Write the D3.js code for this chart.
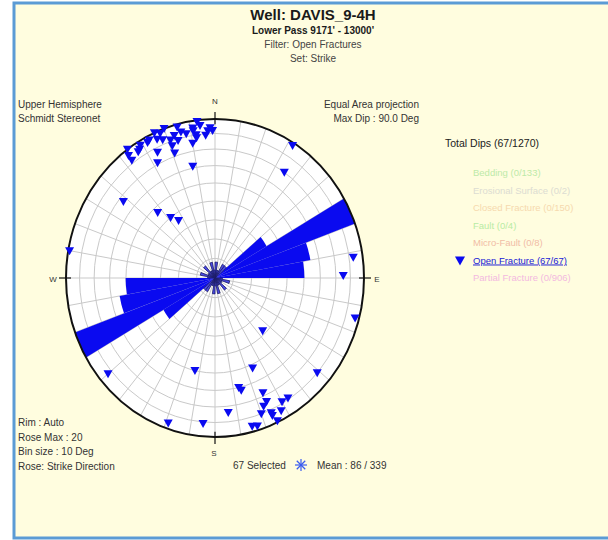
<!DOCTYPE html>
<html>
<head>
<meta charset="utf-8">
<style>
  body { margin: 0; background: #fff; }
  text { font-family: Arial, "Liberation Sans", sans-serif; }
</style>
</head>
<body></body>

<script src='https://d3js.org/d3.v7.min.js'></script>
<script>

    const width = 608;
    const height = 540;

    // header / side texts
    const titleLines = ["Well: DAVIS_9-4H", "Lower Pass 9171' - 13000'", "Filter: Open Fractures", "Set: Strike"];
    const topLeftText = ["Upper Hemisphere", "Schmidt Stereonet"];
    const topRightText = ["Equal Area projection", "Max Dip : 90.0 Deg"];
    const bottomLeftText = ["Rim : Auto", "Rose Max : 20", "Bin size : 10 Deg", "Rose: Strike Direction"];

    // legend
    const legendTitle = "Total Dips (67/1270)";
    const legendNames = ["Bedding (0/133)", "Erosional Surface (0/2)", "Closed Fracture (0/150)", "Fault (0/4)",
        "Micro-Fault (0/8)", "Open Fracture (67/67)", "Partial Fracture (0/906)"];
    const legendColors = ["#bdeaa8", "#dcdcd2", "#f6d9ae", "#b8eca4", "#f1bca6", "#1a1ad6", "#f3b9df"];

    // rose: strike counts per 10 deg bin, 0..180 (mirrored for 180..360)
    const roseBins = d3.range(0, 180, 10);
    const roseCounts = [2, 1, 1, 2, 2, 8, 20, 13, 12, 1, 2, 1, 1, 2, 1, 1, 2, 1];
    const roseMax = 20;

    // open fracture poles [azimuth, dip]
    const poles = [
        [353, 89], [351, 85], [357, 82], [359, 82], [352, 80], [350, 75], [352, 78], [343, 83],
        [338, 88], [336, 90], [338, 83], [341, 77], [341, 72], [334, 77], [332, 71], [332, 86],
        [328, 85], [327, 84], [324, 90], [323, 86], [323, 82], [348, 61], [308, 67], [317, 47],
        [322, 40], [326, 36], [280, 89], [32, 88], [35, 70], [82, 83], [89, 75], [105, 87],
        [230, 83], [193, 50], [199, 86], [185, 81], [174, 74], [167, 60], [136, 38], [131, 80],
        [156, 52], [166, 62], [156, 68], [156, 74], [150, 79], [147, 79], [156, 84], [155, 89],
        [165, 86], [163, 87], [346, 84], [340, 90], [354, 86], [348, 82], [333, 87], [358, 84],
        [341, 81], [344, 79], [351, 83], [356, 79], [156, 82], [336, 85], [329, 87], [160, 80],
        [158, 76], [345, 88], [152, 84]
    ];

    const cx = 215, cy = 278, R = 149, ry = 159;
    const k = ry / R;

    const svg = d3.select("body")
        .append("svg")
        .attr("width", width)
        .attr("height", height);

    svg.append("rect").attr("width", width).attr("height", height).attr("fill", "#fff");
    svg.append("rect")
        .attr("x", 14).attr("y", 3)
        .attr("width", 610).attr("height", 535)
        .attr("fill", "#fffddf")
        .attr("stroke", "#5b9bd5")
        .attr("stroke-width", 3);

    // titles
    const titleSizes = [15, 10, 10, 10];
    const titleY = [20, 34, 48, 62];
    svg.selectAll(".title")
        .data(titleLines)
        .enter()
        .append("text")
        .attr("x", 313)
        .attr("y", function (d, i) { return titleY[i]; })
        .attr("text-anchor", "middle")
        .attr("font-size", function (d, i) { return titleSizes[i]; })
        .attr("font-weight", function (d, i) { return i < 2 ? "bold" : "normal"; })
        .attr("fill", function (d, i) { return i < 2 ? "#1a1a1a" : "#444"; })
        .text(function (d) { return d; });

    svg.selectAll(".tl")
        .data(topLeftText)
        .enter()
        .append("text")
        .attr("x", 18)
        .attr("y", function (d, i) { return 108 + i * 14; })
        .attr("font-size", 10)
        .attr("fill", "#333")
        .text(function (d) { return d; });

    svg.selectAll(".tr")
        .data(topRightText)
        .enter()
        .append("text")
        .attr("x", 419)
        .attr("y", function (d, i) { return 108 + i * 14; })
        .attr("text-anchor", "end")
        .attr("font-size", 10)
        .attr("fill", "#333")
        .text(function (d) { return d; });

    svg.selectAll(".bl")
        .data(bottomLeftText)
        .enter()
        .append("text")
        .attr("x", 18)
        .attr("y", function (d, i) { return 426 + i * 14.5; })
        .attr("font-size", 10)
        .attr("fill", "#333")
        .text(function (d) { return d; });

    // stereonet
    const net = svg.append("g")
        .attr("transform", "translate(" + cx + "," + cy + ") scale(1," + k + ")");

    net.append("circle").attr("r", R).attr("fill", "#fff");

    // equal area radius for a dip (90 deg at rim)
    function dipRadius(dip) {
        return R * Math.SQRT2 * Math.sin(dip * Math.PI / 360);
    }

    const ringDips = d3.range(10, 90, 10);
    net.selectAll(".ring")
        .data(ringDips)
        .enter()
        .append("circle")
        .attr("r", function (d) { return dipRadius(d); })
        .attr("fill", "none")
        .attr("stroke", "#c9c9c9")
        .attr("stroke-width", 1)
        .attr("vector-effect", "non-scaling-stroke");

    const spokes = d3.range(0, 360, 10);
    net.selectAll(".spoke")
        .data(spokes)
        .enter()
        .append("line")
        .attr("x1", 0).attr("y1", 0)
        .attr("x2", function (d) { return R * Math.sin(d * Math.PI / 180); })
        .attr("y2", function (d) { return -R * Math.cos(d * Math.PI / 180); })
        .attr("stroke", "#c9c9c9")
        .attr("stroke-width", 1)
        .attr("vector-effect", "non-scaling-stroke");

    // rose
    const rScale = d3.scaleLinear().domain([0, roseMax]).range([0, R]);
    const roseData = [];
    roseBins.forEach(function (b, i) {
        roseData.push({ start: b, count: roseCounts[i] });
        roseData.push({ start: b + 180, count: roseCounts[i] });
    });
    const arc = d3.arc()
        .innerRadius(0)
        .outerRadius(function (d) { return rScale(d.count); })
        .startAngle(function (d) { return d.start * Math.PI / 180; })
        .endAngle(function (d) { return (d.start + 10) * Math.PI / 180; });

    net.selectAll(".petal")
        .data(roseData.filter(function (d) { return d.count > 2; }))
        .enter()
        .append("path")
        .attr("d", arc)
        .attr("fill", "#0a0af0");

    net.selectAll(".smallpetal")
        .data(roseData.filter(function (d) { return d.count <= 2; }))
        .enter()
        .append("path")
        .attr("d", arc)
        .attr("fill", "#4a4ae8")
        .attr("stroke", "#1c1c66")
        .attr("stroke-width", 0.8)
        .attr("vector-effect", "non-scaling-stroke");

    net.append("circle")
        .attr("r", R)
        .attr("fill", "none")
        .attr("stroke", "#111")
        .attr("stroke-width", 2)
        .attr("vector-effect", "non-scaling-stroke");

    // compass ticks and labels
    const compass = [
        { label: "N", az: 0 }, { label: "E", az: 90 }, { label: "S", az: 180 }, { label: "W", az: 270 }
    ];
    function project(az, r) {
        const a = az * Math.PI / 180;
        return [cx + r * Math.sin(a), cy - r * k * Math.cos(a)];
    }
    compass.forEach(function (c) {
        const p1 = project(c.az, R - 5);
        const p2 = project(c.az, R + (c.az % 180 === 0 ? 7 / k : 7));
        svg.append("line")
            .attr("x1", p1[0]).attr("y1", p1[1])
            .attr("x2", p2[0]).attr("y2", p2[1])
            .attr("stroke", "#111").attr("stroke-width", 1.2);
    });
    const labelPos = { N: [215, 104], S: [214, 456], E: [377, 282], W: [53, 282] };
    svg.selectAll(".compass")
        .data(compass)
        .enter()
        .append("text")
        .attr("x", function (d) { return labelPos[d.label][0]; })
        .attr("y", function (d) { return labelPos[d.label][1]; })
        .attr("text-anchor", "middle")
        .attr("font-size", 8)
        .attr("fill", "#333")
        .text(function (d) { return d.label; });

    // poles as downward triangles
    const tri = "M-4.5,-3.5L4.5,-3.5L0,4.5Z";
    svg.selectAll(".pole")
        .data(poles)
        .enter()
        .append("path")
        .attr("d", tri)
        .attr("transform", function (d) {
            const p = project(d[0], dipRadius(d[1]));
            return "translate(" + p[0] + "," + p[1] + ")";
        })
        .attr("fill", "#0a0af0");

    // legend
    svg.append("text")
        .attr("x", 445).attr("y", 147)
        .attr("font-size", 10.5)
        .attr("fill", "#222")
        .text(legendTitle);

    const ly = d3.scaleLinear().domain([0, legendNames.length - 1]).range([176, 281]);
    svg.selectAll(".leg")
        .data(legendNames)
        .enter()
        .append("text")
        .attr("x", 473)
        .attr("y", function (d, i) { return ly(i); })
        .attr("font-size", 9.5)
        .attr("fill", function (d, i) { return legendColors[i]; })
        .attr("text-decoration", function (d, i) { return i === 5 ? "underline" : null; })
        .text(function (d) { return d; });

    svg.append("path")
        .attr("d", "M-5,-4L5,-4L0,5Z")
        .attr("transform", "translate(460," + (ly(5) - 3) + ")")
        .attr("fill", "#0a0af0");

    // selected / mean line
    svg.append("text")
        .attr("x", 233).attr("y", 469)
        .attr("font-size", 10)
        .attr("fill", "#333")
        .text("67 Selected");
    const star = svg.append("g").attr("transform", "translate(301,465)");
    d3.range(0, 180, 45).forEach(function (a) {
        const r = a * Math.PI / 180;
        star.append("line")
            .attr("x1", -6 * Math.cos(r)).attr("y1", -6 * Math.sin(r))
            .attr("x2", 6 * Math.cos(r)).attr("y2", 6 * Math.sin(r))
            .attr("stroke", "#3a5cf0").attr("stroke-width", 1.2);
    });
    svg.append("text")
        .attr("x", 317).attr("y", 469)
        .attr("font-size", 10)
        .attr("fill", "#333")
        .text("Mean  : 86 / 339");
</script>
</html>
